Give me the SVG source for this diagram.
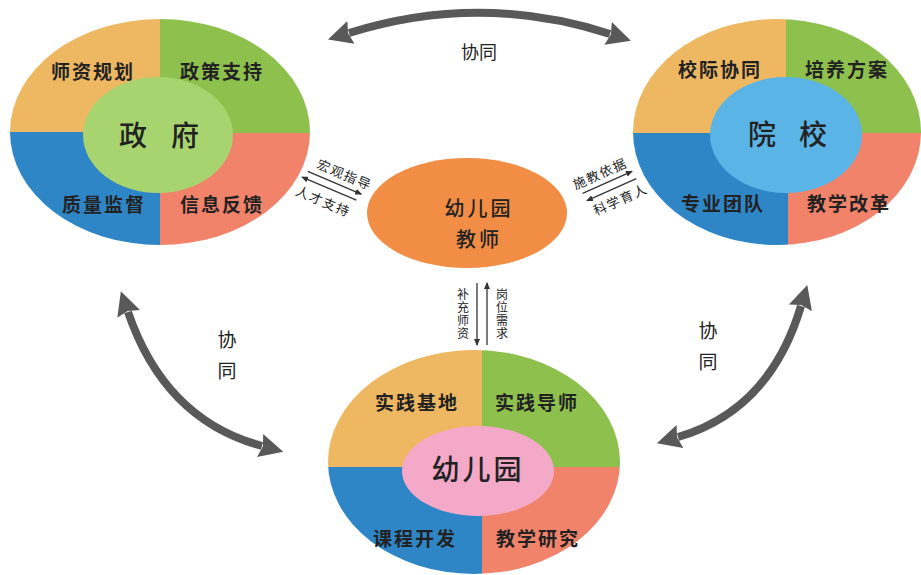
<svg xmlns="http://www.w3.org/2000/svg" width="921" height="575" viewBox="0 0 921 575">
<style>
text{font-family:'Noto Sans CJK SC','Noto Sans',sans-serif;fill:#222;text-anchor:middle;dominant-baseline:central}
.q{font-size:19px;font-weight:bold;letter-spacing:2px}
.c{font-size:28px;font-weight:500}
.s{font-size:13px;letter-spacing:1.5px}
.v{font-size:12px;writing-mode:vertical-rl;letter-spacing:1px}
.t{font-size:20px;font-weight:500;letter-spacing:3px}
.big{fill:none;stroke:#595959;stroke-width:8}
.thin{stroke:#333;stroke-width:1.3;fill:none}
.qy{fill:#EEB862}.qg{fill:#8DC04D}.qr{fill:#F2836B}.qb{fill:#2F86C6}
</style>
<defs>
<marker id="bigArrow" markerUnits="userSpaceOnUse" markerWidth="26" markerHeight="26" viewBox="0 -13 26 26" refX="2" refY="0" orient="auto-start-reverse">
<path d="M0,-12 L24,0 L0,12 L3,0 Z" fill="#595959"/>
</marker>
<marker id="smallArrow" markerUnits="userSpaceOnUse" markerWidth="7" markerHeight="6" viewBox="0 -3 7 6" refX="6" refY="0" orient="auto-start-reverse">
<path d="M0,-3 L7,0 L0,3 Z" fill="#333"/>
</marker>
<clipPath id="clipGov"><ellipse cx="160" cy="132" rx="150" ry="113"/></clipPath>
<clipPath id="clipCol"><ellipse cx="777" cy="132" rx="144" ry="113"/></clipPath>
<clipPath id="clipKin"><ellipse cx="474" cy="462" rx="146" ry="112"/></clipPath>
</defs>

<g id="gov">
<g clip-path="url(#clipGov)">
<rect class="qy" x="0" y="0" width="160" height="132"/>
<rect class="qg" x="160" y="0" width="160" height="133"/>
<rect class="qb" x="0" y="132" width="160" height="130"/>
<rect class="qr" x="160" y="133" width="160" height="130"/>
</g>
<ellipse cx="158" cy="135" rx="75" ry="58" fill="#A8D46F"/>
<text class="q" x="93" y="70">师资规划</text>
<text class="q" x="222" y="70">政策支持</text>
<text class="q" x="104" y="203">质量监督</text>
<text class="q" x="222" y="203">信息反馈</text>
<text class="c" x="133" y="134">政</text>
<text class="c" x="185" y="134">府</text>
</g>

<g id="college">
<g clip-path="url(#clipCol)">
<rect class="qy" x="630" y="0" width="156" height="133"/>
<rect class="qg" x="786" y="0" width="140" height="133"/>
<rect class="qb" x="630" y="133" width="158" height="130"/>
<rect class="qr" x="788" y="133" width="140" height="130"/>
</g>
<ellipse cx="786" cy="135" rx="76" ry="58" fill="#5AB4E5"/>
<text class="q" x="720" y="68">校际协同</text>
<text class="q" x="847" y="68">培养方案</text>
<text class="q" x="723" y="202">专业团队</text>
<text class="q" x="849" y="202">教学改革</text>
<text class="c" x="762" y="133">院</text>
<text class="c" x="813" y="133">校</text>
</g>

<g id="kindergarten">
<g clip-path="url(#clipKin)">
<rect class="qy" x="320" y="345" width="162" height="122"/>
<rect class="qg" x="482" y="345" width="145" height="122"/>
<rect class="qb" x="320" y="467" width="162" height="110"/>
<rect class="qr" x="482" y="467" width="145" height="110"/>
</g>
<ellipse cx="478" cy="471" rx="76" ry="45" fill="#F4A9C8"/>
<text class="q" x="417" y="401">实践基地</text>
<text class="q" x="537" y="401">实践导师</text>
<text class="q" x="415" y="537">课程开发</text>
<text class="q" x="538" y="537">教学研究</text>
<text class="c" x="478" y="468" style="letter-spacing:3px">幼儿园</text>
</g>

<g id="teacher">
<ellipse cx="467" cy="213" rx="100" ry="55" fill="#F18D45"/>
<text class="t" x="479" y="207">幼儿园</text>
<text class="t" x="479" y="238">教师</text>
</g>

<g id="connectors">
<path class="big" d="M349,33 Q480,-8 610,34" marker-start="url(#bigArrow)" marker-end="url(#bigArrow)"/>
<path class="big" d="M128,312 Q165,420 262,446" marker-start="url(#bigArrow)" marker-end="url(#bigArrow)"/>
<path class="big" d="M801,306 Q770,410 678,437" marker-start="url(#bigArrow)" marker-end="url(#bigArrow)"/>
<text x="479" y="51" style="font-size:18px">协同</text>
<text x="227" y="338" style="font-size:19px">协</text>
<text x="227" y="369" style="font-size:19px">同</text>
<text x="708" y="329" style="font-size:19px">协</text>
<text x="708" y="360" style="font-size:19px">同</text>

<g transform="translate(332,186) rotate(23)">
<line class="thin" x1="-28" y1="-4" x2="30" y2="-4" marker-end="url(#smallArrow)"/>
<line class="thin" x1="-31" y1="3.5" x2="28" y2="3.5" marker-start="url(#smallArrow)"/>
<text class="s" x="7" y="-16">宏观指导</text>
<text class="s" x="-2" y="17">人才支持</text>
</g>
<g transform="translate(610,186) rotate(-24)">
<line class="thin" x1="-28" y1="-4.4" x2="26" y2="-4.4" marker-end="url(#smallArrow)"/>
<line class="thin" x1="-27" y1="4" x2="27" y2="4" marker-start="url(#smallArrow)"/>
<text class="s" x="-4" y="-16">施教依据</text>
<text class="s" x="4" y="16">科学育人</text>
</g>
<line class="thin" x1="477" y1="283" x2="477" y2="345" marker-end="url(#smallArrow)"/>
<line class="thin" x1="487" y1="283" x2="487" y2="345" marker-start="url(#smallArrow)"/>
<text class="v" x="463" y="314">补充师资</text>
<text class="v" x="502" y="314">岗位需求</text>
</g>
</svg>
